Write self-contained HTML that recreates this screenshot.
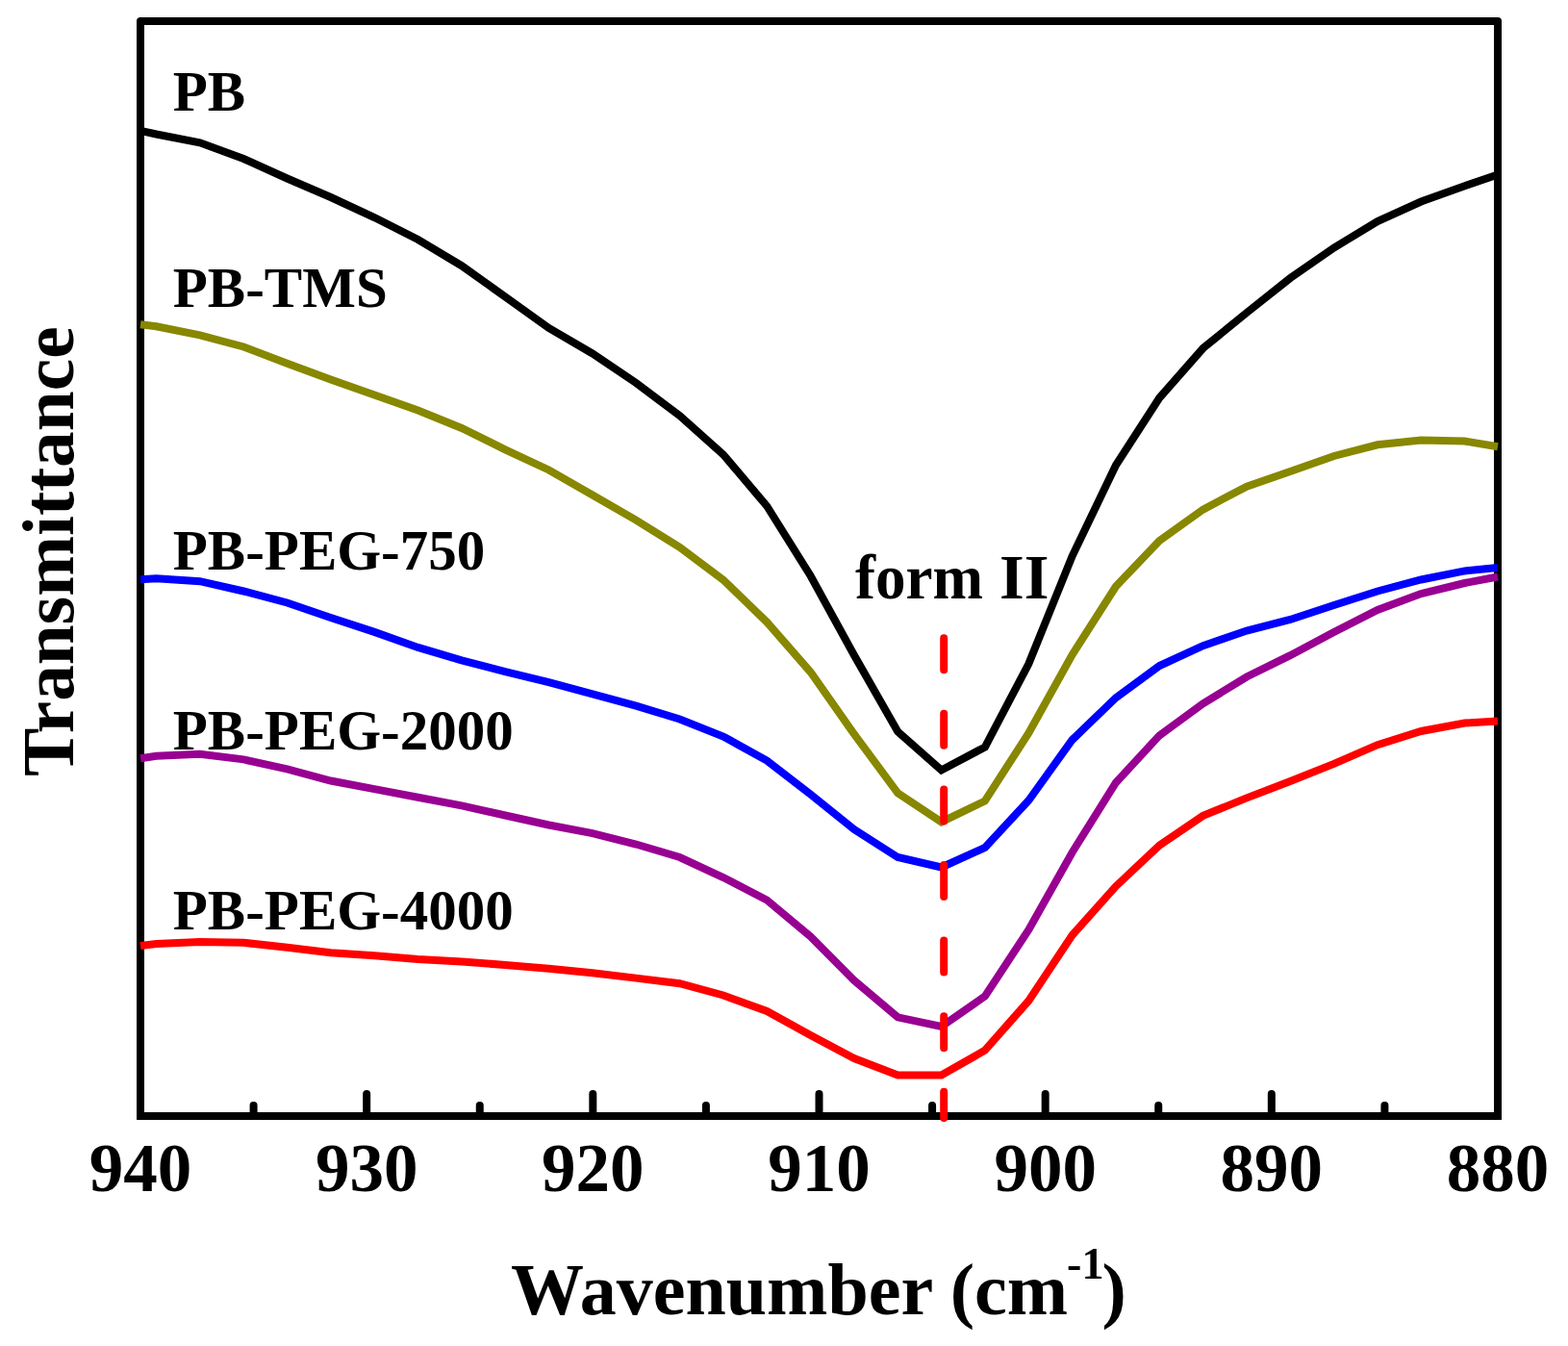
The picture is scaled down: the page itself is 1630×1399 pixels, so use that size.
<!DOCTYPE html>
<html><head><meta charset="utf-8"><title>FTIR Transmittance</title>
<style>
html,body{margin:0;padding:0;background:#fff;overflow:hidden;}
svg{display:block;}
text{font-family:"Liberation Serif", "Times New Roman", serif;font-weight:bold;fill:#000;}
</style></head><body>
<svg width="1630" height="1399" viewBox="0 0 1630 1399">
<rect x="0" y="0" width="1630" height="1399" fill="#fff"/>

<path d="M146,1160V22H1557V1160" fill="none" stroke="#000" stroke-width="8" stroke-linejoin="round" stroke-linecap="square"/>
<path d="M142,1160H1561" fill="none" stroke="#000" stroke-width="8"/>
<path d="M146.00,1160V1137M381.17,1160V1137M616.33,1160V1137M851.50,1160V1137M1086.67,1160V1137M1321.83,1160V1137M1557.00,1160V1137M263.58,1160V1149M498.75,1160V1149M733.92,1160V1149M969.08,1160V1149M1204.25,1160V1149M1439.42,1160V1149" stroke="#000" stroke-width="8" stroke-linecap="round" fill="none"/>
<g fill="none" stroke-width="8" stroke-linejoin="miter" stroke-miterlimit="4">
<polyline points="146.0,135.8 162.5,139.5 207.8,148.3 253.2,165.0 298.5,185.5 343.8,205.0 389.2,226.0 434.5,249.0 479.9,276.2 525.2,308.5 570.5,341.0 615.9,367.5 661.2,398.0 706.6,432.0 751.9,472.5 797.2,526.0 842.6,598.5 887.9,681.0 933.3,760.5 978.6,800.5 1023.9,776.5 1069.3,690.0 1114.6,578.0 1160.0,483.5 1205.3,413.5 1250.6,362.0 1296.0,325.0 1341.3,289.0 1386.7,257.5 1432.0,230.0 1477.3,209.5 1522.7,193.2 1557.0,181.5" stroke="#000000"/>
<polyline points="146.0,337.3 162.5,339.3 207.8,348.3 253.2,360.5 298.5,377.8 343.8,394.4 389.2,410.5 434.5,426.5 479.9,445.0 525.2,467.3 570.5,488.5 615.9,514.5 661.2,540.6 706.6,568.9 751.9,602.7 797.2,646.5 842.6,698.5 887.9,763.0 933.3,824.4 978.6,854.4 1023.9,832.5 1069.3,762.0 1114.6,680.5 1160.0,609.5 1205.3,562.0 1250.6,529.6 1296.0,505.6 1341.3,490.0 1386.7,474.0 1432.0,462.3 1477.3,457.5 1522.7,458.6 1557.0,464.2" stroke="#878700"/>
<polyline points="146.0,602.2 162.5,601.2 207.8,604.2 253.2,614.5 298.5,626.5 343.8,642.0 389.2,656.9 434.5,672.9 479.9,686.4 525.2,698.0 570.5,709.1 615.9,721.3 661.2,733.6 706.6,747.5 751.9,765.5 797.2,790.5 842.6,825.7 887.9,862.0 933.3,891.0 978.6,901.5 1023.9,881.0 1069.3,832.0 1114.6,769.0 1160.0,725.2 1205.3,692.0 1250.6,671.2 1296.0,655.5 1341.3,644.0 1386.7,629.0 1432.0,614.5 1477.3,602.5 1522.7,593.4 1557.0,590.0" stroke="#0000ff"/>
<polyline points="146.0,788.2 162.5,785.8 207.8,783.8 253.2,789.4 298.5,799.3 343.8,811.5 389.2,820.1 434.5,828.7 479.9,837.3 525.2,847.5 570.5,857.5 615.9,866.1 661.2,877.5 706.6,891.0 751.9,912.0 797.2,935.5 842.6,973.5 887.9,1019.0 933.3,1057.4 978.6,1067.0 1023.9,1035.5 1069.3,966.5 1114.6,886.0 1160.0,813.5 1205.3,764.4 1250.6,731.3 1296.0,703.5 1341.3,681.2 1386.7,657.0 1432.0,634.0 1477.3,617.0 1522.7,606.0 1557.0,599.5" stroke="#980092"/>
<polyline points="146.0,983.0 162.5,981.0 207.8,979.0 253.2,979.8 298.5,984.7 343.8,990.3 389.2,993.3 434.5,996.9 479.9,999.4 525.2,1003.0 570.5,1006.7 615.9,1011.2 661.2,1016.6 706.6,1022.2 751.9,1034.5 797.2,1051.0 842.6,1076.0 887.9,1100.0 933.3,1117.5 978.6,1117.5 1023.9,1091.7 1069.3,1040.2 1114.6,972.0 1160.0,921.2 1205.3,878.7 1250.6,847.9 1296.0,829.4 1341.3,812.0 1386.7,793.9 1432.0,774.2 1477.3,760.0 1522.7,751.5 1557.0,749.4" stroke="#ff0000"/>
</g>
<path d="M981.2,663.2V1162" stroke="#ff0000" stroke-width="8" stroke-linecap="round" stroke-dasharray="33 45.6" fill="none"/>
<text x="146.00" y="1238" font-size="71" text-anchor="middle">940</text>
<text x="381.17" y="1238" font-size="71" text-anchor="middle">930</text>
<text x="616.33" y="1238" font-size="71" text-anchor="middle">920</text>
<text x="851.50" y="1238" font-size="71" text-anchor="middle">910</text>
<text x="1086.67" y="1238" font-size="71" text-anchor="middle">900</text>
<text x="1321.83" y="1238" font-size="71" text-anchor="middle">890</text>
<text x="1557.00" y="1238" font-size="71" text-anchor="middle">880</text>
<text x="531" y="1366" font-size="76">Wavenumber (cm<tspan font-size="46" dx="-1" dy="-37.5">-1</tspan><tspan dx="-2" dy="37.5">)</tspan></text>
<text transform="translate(76,807) rotate(-90)" x="0" y="0" font-size="76" textLength="467.7" lengthAdjust="spacingAndGlyphs">Transmittance</text>
<text x="179.8" y="115.1" font-size="59">PB</text>
<text x="179.8" y="319.1" font-size="59">PB-TMS</text>
<text x="179.8" y="591.5" font-size="59">PB-PEG-750</text>
<text x="179.8" y="778.5" font-size="59">PB-PEG-2000</text>
<text x="179.8" y="965.8" font-size="59">PB-PEG-4000</text>
<text x="888.9" y="622.4" font-size="66" textLength="133.2" lengthAdjust="spacingAndGlyphs">form</text>
<text x="1039.1" y="622.4" font-size="66">II</text>
</svg>
</body></html>
